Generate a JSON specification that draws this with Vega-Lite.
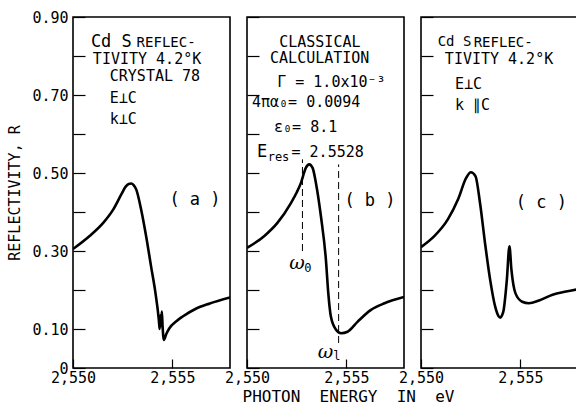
{
  "$schema": "https://vega.github.io/schema/vega-lite/v6.json",
  "autosize": {"type": "pad"},
  "padding": {"left": 7, "top": 9, "right": 0, "bottom": 0},
  "background": "white",
  "bounds": "flush",
  "spacing": 17,
  "config": {
    "font": "DejaVu Sans Mono",
    "view": {"stroke": "black", "strokeWidth": 1.6},
    "axis": {
      "domain": false, "grid": false, "tickColor": "black", "tickWidth": 1.2,
      "labelColor": "black", "titleColor": "black",
      "labelFont": "DejaVu Sans Mono", "titleFont": "DejaVu Sans Mono",
      "titleFontWeight": "normal", "labelFontSize": 15, "titleFontSize": 15,
      "labelOverlap": false, "labelFlush": false
    },
    "text": {"font": "DejaVu Sans Mono", "color": "black", "align": "left", "baseline": "middle"}
  },
  "datasets": {
    "curves": [
      {"panel": "a", "E": 2.55000, "R": 0.305},
      {"panel": "a", "E": 2.55085, "R": 0.339},
      {"panel": "a", "E": 2.55152, "R": 0.372},
      {"panel": "a", "E": 2.55202, "R": 0.406},
      {"panel": "a", "E": 2.55243, "R": 0.445},
      {"panel": "a", "E": 2.55265, "R": 0.465},
      {"panel": "a", "E": 2.55280, "R": 0.472},
      {"panel": "a", "E": 2.55293, "R": 0.473},
      {"panel": "a", "E": 2.55305, "R": 0.469},
      {"panel": "a", "E": 2.55318, "R": 0.458},
      {"panel": "a", "E": 2.55343, "R": 0.406},
      {"panel": "a", "E": 2.55368, "R": 0.338},
      {"panel": "a", "E": 2.55393, "R": 0.260},
      {"panel": "a", "E": 2.55415, "R": 0.192},
      {"panel": "a", "E": 2.55432, "R": 0.123},
      {"panel": "a", "E": 2.55436, "R": 0.100},
      {"panel": "a", "E": 2.55440, "R": 0.135},
      {"panel": "a", "E": 2.55443, "R": 0.108},
      {"panel": "a", "E": 2.55447, "R": 0.145},
      {"panel": "a", "E": 2.55451, "R": 0.105},
      {"panel": "a", "E": 2.55457, "R": 0.072},
      {"panel": "a", "E": 2.55470, "R": 0.088},
      {"panel": "a", "E": 2.55485, "R": 0.102},
      {"panel": "a", "E": 2.55520, "R": 0.120},
      {"panel": "a", "E": 2.55552, "R": 0.132},
      {"panel": "a", "E": 2.55618, "R": 0.152},
      {"panel": "a", "E": 2.55685, "R": 0.165},
      {"panel": "a", "E": 2.55790, "R": 0.181},
      {"panel": "b", "E": 2.55000, "R": 0.308},
      {"panel": "b", "E": 2.55086, "R": 0.338},
      {"panel": "b", "E": 2.55153, "R": 0.372},
      {"panel": "b", "E": 2.55221, "R": 0.423},
      {"panel": "b", "E": 2.55250, "R": 0.450},
      {"panel": "b", "E": 2.55271, "R": 0.474},
      {"panel": "b", "E": 2.55296, "R": 0.513},
      {"panel": "b", "E": 2.55313, "R": 0.522},
      {"panel": "b", "E": 2.55330, "R": 0.513},
      {"panel": "b", "E": 2.55347, "R": 0.474},
      {"panel": "b", "E": 2.55372, "R": 0.389},
      {"panel": "b", "E": 2.55397, "R": 0.278},
      {"panel": "b", "E": 2.55409, "R": 0.192},
      {"panel": "b", "E": 2.55422, "R": 0.132},
      {"panel": "b", "E": 2.55448, "R": 0.098},
      {"panel": "b", "E": 2.55473, "R": 0.089},
      {"panel": "b", "E": 2.55506, "R": 0.093},
      {"panel": "b", "E": 2.55557, "R": 0.119},
      {"panel": "b", "E": 2.55624, "R": 0.149},
      {"panel": "b", "E": 2.55692, "R": 0.166},
      {"panel": "b", "E": 2.55790, "R": 0.182},
      {"panel": "c", "E": 2.55000, "R": 0.310},
      {"panel": "c", "E": 2.55067, "R": 0.338},
      {"panel": "c", "E": 2.55135, "R": 0.381},
      {"panel": "c", "E": 2.55186, "R": 0.432},
      {"panel": "c", "E": 2.55228, "R": 0.488},
      {"panel": "c", "E": 2.55251, "R": 0.502},
      {"panel": "c", "E": 2.55274, "R": 0.492},
      {"panel": "c", "E": 2.55297, "R": 0.423},
      {"panel": "c", "E": 2.55322, "R": 0.321},
      {"panel": "c", "E": 2.55348, "R": 0.226},
      {"panel": "c", "E": 2.55373, "R": 0.158},
      {"panel": "c", "E": 2.55390, "R": 0.133},
      {"panel": "c", "E": 2.55399, "R": 0.129},
      {"panel": "c", "E": 2.55408, "R": 0.135},
      {"panel": "c", "E": 2.55416, "R": 0.149},
      {"panel": "c", "E": 2.55432, "R": 0.226},
      {"panel": "c", "E": 2.55445, "R": 0.312},
      {"panel": "c", "E": 2.55455, "R": 0.252},
      {"panel": "c", "E": 2.55475, "R": 0.192},
      {"panel": "c", "E": 2.55509, "R": 0.170},
      {"panel": "c", "E": 2.55543, "R": 0.166},
      {"panel": "c", "E": 2.55594, "R": 0.173},
      {"panel": "c", "E": 2.55662, "R": 0.188},
      {"panel": "c", "E": 2.55730, "R": 0.196},
      {"panel": "c", "E": 2.55790, "R": 0.202}
    ],
    "notes": [
      {"panel": "a", "kind": "cd", "E": 2.5509, "R": 0.836, "text": "Cd S"},
      {"panel": "a", "kind": "caps", "E": 2.5532, "R": 0.834, "text": "REFLEC-"},
      {"panel": "a", "kind": "txt", "E": 2.5510, "R": 0.792, "text": "TIVITY 4.2°K"},
      {"panel": "a", "kind": "txt", "E": 2.55185, "R": 0.748, "text": "CRYSTAL 78"},
      {"panel": "a", "kind": "txt", "E": 2.55185, "R": 0.692, "text": "E⊥C"},
      {"panel": "a", "kind": "txt", "E": 2.55185, "R": 0.638, "text": "k⊥C"},
      {"panel": "a", "kind": "label", "E": 2.55485, "R": 0.432, "text": "( a )"},
      {"panel": "b", "kind": "txt", "E": 2.55162, "R": 0.836, "text": "CLASSICAL"},
      {"panel": "b", "kind": "txt", "E": 2.55116, "R": 0.7945, "text": "CALCULATION"},
      {"panel": "b", "kind": "txt", "E": 2.55152, "R": 0.733, "text": "Γ = 1.0x10⁻³"},
      {"panel": "b", "kind": "txt", "E": 2.55025, "R": 0.681, "text": "4πα₀= 0.0094"},
      {"panel": "b", "kind": "txt", "E": 2.55136, "R": 0.617, "text": "ε₀= 8.1"},
      {"panel": "b", "kind": "cd", "E": 2.5505, "R": 0.555, "text": "E"},
      {"panel": "b", "kind": "sub", "E": 2.55104, "R": 0.542, "text": "res"},
      {"panel": "b", "kind": "txt", "E": 2.55224, "R": 0.555, "text": "= 2.5528"},
      {"panel": "b", "kind": "omega", "E": 2.55212, "R": 0.27, "text": "ω"},
      {"panel": "b", "kind": "sub", "E": 2.55288, "R": 0.257, "text": "0"},
      {"panel": "b", "kind": "omega", "E": 2.55356, "R": 0.041, "text": "ω"},
      {"panel": "b", "kind": "sub", "E": 2.55434, "R": 0.030, "text": "l"},
      {"panel": "b", "kind": "label", "E": 2.5549, "R": 0.427, "text": "( b )"},
      {"panel": "c", "kind": "cdc", "E": 2.55084, "R": 0.836, "text": "Cd S"},
      {"panel": "c", "kind": "caps", "E": 2.55265, "R": 0.834, "text": "REFLEC-"},
      {"panel": "c", "kind": "txt", "E": 2.5512, "R": 0.792, "text": "TIVITY 4.2°K"},
      {"panel": "c", "kind": "txt", "E": 2.55171, "R": 0.728, "text": "E⊥C"},
      {"panel": "c", "kind": "txt", "E": 2.55171, "R": 0.674, "text": "k ∥C"},
      {"panel": "c", "kind": "label", "E": 2.55477, "R": 0.424, "text": "( c )"}
    ],
    "guides": [
      {"panel": "b", "E": 2.55279, "R": 0.30, "R2": 0.535},
      {"panel": "b", "E": 2.55461, "R": 0.064, "R2": 0.522}
    ]
  },
  "hconcat": [
    {
      "width": 157, "height": 351,
      "encoding": {
        "x": {"field": "E", "type": "quantitative",
              "scale": {"domain": [2.55, 2.5579], "nice": false, "zero": false},
              "axis": {"values": [2.55, 2.555], "labelExpr": "replace(format(datum.value, '.3f'), '.', ',')", "tickSize": -9, "labelPadding": 11, "title": null}},
        "y": {"field": "R", "type": "quantitative",
              "scale": {"domain": [0, 0.9], "nice": false, "zero": true},
              "axis": {"values": [0, 0.1, 0.2, 0.3, 0.4, 0.5, 0.6, 0.7, 0.8, 0.9], "labelExpr": "datum.value == 0 ? '0' : (round(datum.value * 10) % 2 == 1 ? format(datum.value, '.2f') : '')", "tickSize": -12, "labelPadding": 17, "title": "REFLECTIVITY, R", "titlePadding": 9}}
      },
      "layer": [
        {"data": {"name": "curves"}, "transform": [{"filter": "datum.panel == 'a'"}],
         "mark": {"type": "line", "color": "black", "strokeWidth": 2.6, "interpolate": "monotone", "clip": true}},
        {"data": {"name": "notes"}, "transform": [{"filter": "datum.panel == 'a' && datum.kind == 'cd'"}],
         "mark": {"type": "text", "fontSize": 17}, "encoding": {"text": {"field": "text"}}},
        {"data": {"name": "notes"}, "transform": [{"filter": "datum.panel == 'a' && datum.kind == 'caps'"}],
         "mark": {"type": "text", "fontSize": 14}, "encoding": {"text": {"field": "text"}}},
        {"data": {"name": "notes"}, "transform": [{"filter": "datum.panel == 'a' && datum.kind == 'txt'"}],
         "mark": {"type": "text", "fontSize": 15}, "encoding": {"text": {"field": "text"}}},
        {"data": {"name": "notes"}, "transform": [{"filter": "datum.panel == 'a' && datum.kind == 'label'"}],
         "mark": {"type": "text", "fontSize": 17}, "encoding": {"text": {"field": "text"}}}
      ]
    },
    {
      "width": 157, "height": 351,
      "encoding": {
        "x": {"field": "E", "type": "quantitative",
              "scale": {"domain": [2.55, 2.5579], "nice": false, "zero": false},
              "axis": {"values": [2.55, 2.555], "labelExpr": "replace(format(datum.value, '.3f'), '.', ',')", "tickSize": -9, "labelPadding": 11,
                       "title": "PHOTON\u00a0 ENERGY\u00a0 IN\u00a0 eV", "titleFontSize": 16, "titleX": 101, "titleY": 33, "titleBaseline": "alphabetic", "titleAlign": "center"}},
        "y": {"field": "R", "type": "quantitative",
              "scale": {"domain": [0, 0.9], "nice": false, "zero": true},
              "axis": {"values": [0, 0.1, 0.2, 0.3, 0.4, 0.5, 0.6, 0.7, 0.8, 0.9], "labels": false, "tickSize": -12, "title": null}}
      },
      "layer": [
        {"data": {"name": "guides"},
         "mark": {"type": "rule", "color": "black", "strokeWidth": 1, "strokeDash": [7, 4]},
         "encoding": {"y2": {"field": "R2"}}},
        {"data": {"name": "curves"}, "transform": [{"filter": "datum.panel == 'b'"}],
         "mark": {"type": "line", "color": "black", "strokeWidth": 2.6, "interpolate": "monotone", "clip": true}},
        {"data": {"name": "notes"}, "transform": [{"filter": "datum.panel == 'b' && datum.kind == 'cd'"}],
         "mark": {"type": "text", "fontSize": 17}, "encoding": {"text": {"field": "text"}}},
        {"data": {"name": "notes"}, "transform": [{"filter": "datum.panel == 'b' && datum.kind == 'txt'"}],
         "mark": {"type": "text", "fontSize": 15}, "encoding": {"text": {"field": "text"}}},
        {"data": {"name": "notes"}, "transform": [{"filter": "datum.panel == 'b' && datum.kind == 'sub'"}],
         "mark": {"type": "text", "fontSize": 12}, "encoding": {"text": {"field": "text"}}},
        {"data": {"name": "notes"}, "transform": [{"filter": "datum.panel == 'b' && datum.kind == 'omega'"}],
         "mark": {"type": "text", "fontSize": 19, "font": "DejaVu Serif", "fontStyle": "italic"}, "encoding": {"text": {"field": "text"}}},
        {"data": {"name": "notes"}, "transform": [{"filter": "datum.panel == 'b' && datum.kind == 'label'"}],
         "mark": {"type": "text", "fontSize": 17}, "encoding": {"text": {"field": "text"}}}
      ]
    },
    {
      "width": 157, "height": 351,
      "encoding": {
        "x": {"field": "E", "type": "quantitative",
              "scale": {"domain": [2.55, 2.5579], "nice": false, "zero": false},
              "axis": {"values": [2.55, 2.555], "labelExpr": "replace(format(datum.value, '.3f'), '.', ',')", "tickSize": -9, "labelPadding": 11, "title": null}},
        "y": {"field": "R", "type": "quantitative",
              "scale": {"domain": [0, 0.9], "nice": false, "zero": true},
              "axis": {"values": [0, 0.1, 0.2, 0.3, 0.4, 0.5, 0.6, 0.7, 0.8, 0.9], "labels": false, "tickSize": -12, "title": null}}
      },
      "layer": [
        {"data": {"name": "curves"}, "transform": [{"filter": "datum.panel == 'c'"}],
         "mark": {"type": "line", "color": "black", "strokeWidth": 2.6, "interpolate": "monotone", "clip": true}},
        {"data": {"name": "notes"}, "transform": [{"filter": "datum.panel == 'c' && datum.kind == 'cdc'"}],
         "mark": {"type": "text", "fontSize": 14}, "encoding": {"text": {"field": "text"}}},
        {"data": {"name": "notes"}, "transform": [{"filter": "datum.panel == 'c' && datum.kind == 'caps'"}],
         "mark": {"type": "text", "fontSize": 14}, "encoding": {"text": {"field": "text"}}},
        {"data": {"name": "notes"}, "transform": [{"filter": "datum.panel == 'c' && datum.kind == 'txt'"}],
         "mark": {"type": "text", "fontSize": 15}, "encoding": {"text": {"field": "text"}}},
        {"data": {"name": "notes"}, "transform": [{"filter": "datum.panel == 'c' && datum.kind == 'label'"}],
         "mark": {"type": "text", "fontSize": 17}, "encoding": {"text": {"field": "text"}}}
      ]
    }
  ]
}
